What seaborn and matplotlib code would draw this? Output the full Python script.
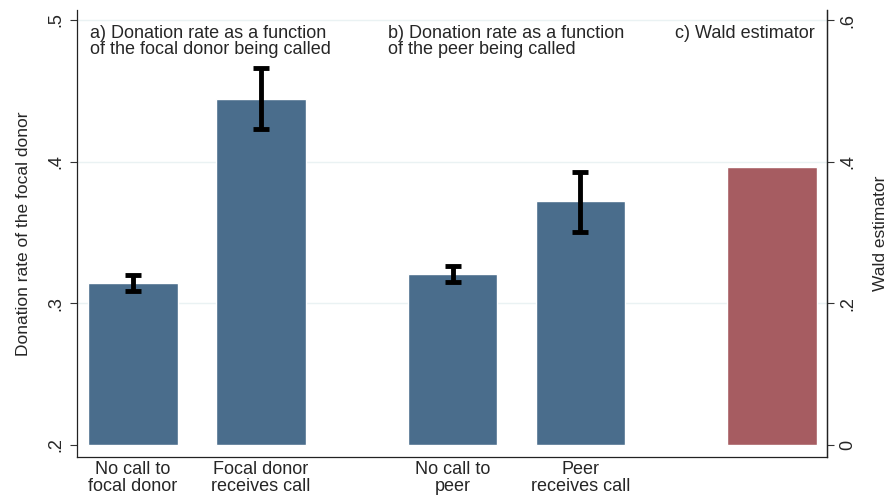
import matplotlib
matplotlib.use("Agg")
import matplotlib.pyplot as plt
import seaborn as sns
import pandas as pd

categories = ["No call to\nfocal donor", "Focal donor\nreceives call", "No call to\npeer", "Peer\nreceives call"]
means = [0.3146, 0.444, 0.321, 0.3719]
ci_low = [0.309, 0.423, 0.3153, 0.3506]
ci_high = [0.320, 0.466, 0.3266, 0.3924]
wald_value = [0.393]
left_ticks = [0.2, 0.3, 0.4, 0.5]
left_ticklabels = [".2", ".3", ".4", ".5"]
right_ticks = [0.0, 0.2, 0.4, 0.6]
right_ticklabels = ["0", ".2", ".4", ".6"]
panel_titles = ["a) Donation rate as a function\nof the focal donor being called",
                "b) Donation rate as a function\nof the peer being called",
                "c) Wald estimator"]

positions = [0, 1, 2.5, 3.5]
wald_pos = [5]

sns.set_style("white")
plt.rcParams['font.family'] = ['Liberation Sans', 'DejaVu Sans']

fig = plt.figure(figsize=(8.91, 4.95), dpi=100)
ax = fig.add_axes([77/891, 1 - 457/495, 750/891, 447/495])

df = pd.DataFrame({"pos": positions, "mean": means})
blue = "#4a6d8c"
red = "#a65c61"
sns.barplot(data=df, x="pos", y="mean", native_scale=True, width=0.7, color=blue,
            saturation=1, ax=ax, errorbar=None)
ylo = 0.2 - 12/1414
yhi = 0.5 + 10/1414
ax.set_ylim(ylo, yhi)
for b in ax.patches:
    h = b.get_height()
    b.set_y(0.2)
    b.set_height(h - 0.2)

err_lo = [m - l for m, l in zip(means, ci_low)]
err_hi = [h - m for m, h in zip(means, ci_high)]
ax.errorbar(positions, means, yerr=[err_lo, err_hi], fmt="none", ecolor="black",
            elinewidth=3.5, capsize=6, capthick=3.5, zorder=5)

for y in [0.3, 0.4, 0.5]:
    ax.axhline(y, color="#eaf2f3", lw=1, zorder=0)
ax.set_ylabel("Donation rate of the focal donor", fontsize=12.5, labelpad=12)
ax.set_xlabel("")
ax.spines["top"].set_visible(False)
for s in ["left", "bottom", "right"]:
    ax.spines[s].set_color("#222222")
    ax.spines[s].set_linewidth(0.9)

ax2 = ax.twinx()
wdf = pd.DataFrame({"pos": wald_pos, "val": wald_value})
sns.barplot(data=wdf, x="pos", y="val", native_scale=True, width=0.7, color=red,
            saturation=1, ax=ax2, errorbar=None)
for b in ax2.patches:
    w = 0.7
    b.set_x(5 - w/2)
    b.set_width(w)
ax2.set_ylim((ylo - 0.2) * 2, (yhi - 0.2) * 2)
ax2.set_yticks(right_ticks)
ax2.set_yticklabels(right_ticklabels, rotation=90, va="center", fontsize=13)
ax2.tick_params(axis="y", length=5, width=0.8, color="#333333", direction="out", right=True, pad=4)
ax2.set_ylabel("Wald estimator", fontsize=12.5, labelpad=12)
ax2.spines["top"].set_visible(False)
ax2.spines["left"].set_visible(False)
ax2.spines["bottom"].set_visible(False)
ax2.spines["right"].set_color("#222222")
ax2.spines["right"].set_linewidth(0.9)
ax2.set_xlabel("")

ax.set_xlim(-0.438, 5.43)
ax.set_yticks(left_ticks)
ax.set_yticklabels(left_ticklabels, rotation=90, va="center", fontsize=13)
ax.set_xticks(positions)
ax.set_xticklabels(categories, fontsize=13, linespacing=0.95)
ax.tick_params(axis="x", length=0, pad=3, bottom=True)
ax.tick_params(axis="y", length=5, width=0.8, color="#333333", direction="out", left=True, pad=4)

text_x = [-0.337, 1.995, 4.24]
for tx, t in zip(text_x, panel_titles):
    ax.text(tx, 0.966, t, transform=ax.get_xaxis_transform(), va="top", ha="left",
            fontsize=13, linespacing=0.93)

fig.savefig("out.png", dpi=100)
